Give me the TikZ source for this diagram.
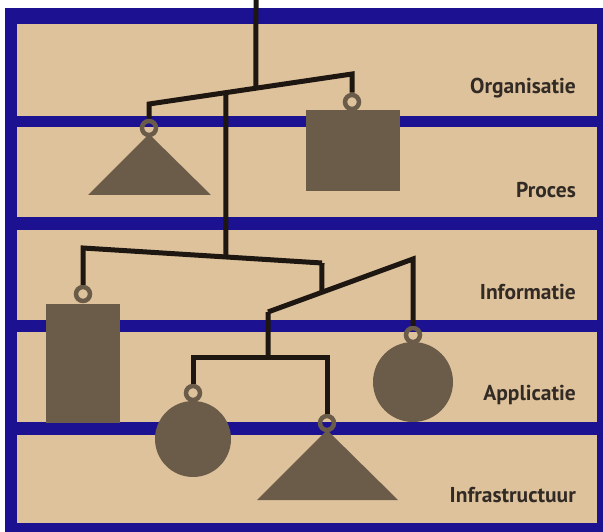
\documentclass[tikz,border=0pt]{standalone}
\usepackage{fontspec}
\setmainfont{PT Sans}
\usetikzlibrary{calc}
\definecolor{bluec}{RGB}{28,18,145}
\definecolor{tanc}{RGB}{222,194,156}
\definecolor{shapec}{RGB}{107,92,73}
\definecolor{beamc}{RGB}{30,22,16}
\definecolor{textc}{RGB}{50,42,36}
\begin{document}
\begin{tikzpicture}[x=1pt,y=-1pt,
  panel/.style={fill=tanc},
  wire/.style={draw=beamc, line width=5pt, line join=miter, line cap=butt},
  ring/.style={circle, draw=shapec, line width=4.5pt, minimum size=14pt, inner sep=0pt},
  weight/.style={fill=shapec},
  lbl/.style={anchor=base east, text=textc, font=\bfseries\fontsize{21.5}{21.5}\selectfont, inner sep=0pt}]
\useasboundingbox (0,0) rectangle (603,532);
\fill[white] (0,0) rectangle (603,532);
\fill[bluec] (5,8) rectangle (603,532);
\fill[panel] (17,24) rectangle (597,116);
\fill[panel] (17,127) rectangle (597,217);
\fill[panel] (17,230) rectangle (597,320);
\fill[panel] (17,332) rectangle (597,422);
\fill[panel] (17,435) rectangle (597,523);

% beam end points
\coordinate (top) at (256,0);
\coordinate (b1l) at (149,104);
\coordinate (b1r) at (352,74);
\coordinate (b2l) at (83,248);
\coordinate (b2r) at (322,263);
\coordinate (b3l) at (268,312);
\coordinate (b3r) at (413,259);
\coordinate (b4l) at (193,357);
\coordinate (b4r) at (327,357);
\coordinate (j1) at ($(b1l)!0.527!(b1r)$);
\coordinate (j2) at ($(b1l)!0.379!(b1r)$);
\coordinate (j3) at ($(b2l)!0.598!(b2r)$);
\coordinate (j4) at ($(b3l)!0.372!(b3r)$);
\coordinate (j5) at ($(b4l)!0.56!(b4r)$);

% weights
\fill[weight] (149,134) -- (211,195) -- (88,195) -- cycle;
\fill[weight] (306,110) rectangle (400,191);
\fill[weight] (46,304) rectangle (120,423);
\fill[weight] (413,382) circle[radius=40pt];
\fill[weight] (193,439) circle[radius=38pt];
\fill[weight] (327,430) -- (398,500) -- (257,500) -- cycle;

% rings
\node[ring] (r1) at (149,128) {};
\node[ring] (r2) at (352,102) {};
\node[ring] (r3) at (83,294) {};
\node[ring] (r4) at (413,335) {};
\node[ring] (r5) at (193,393) {};
\node[ring] (r6) at (327,423) {};

% wires
\draw[wire] (top) -- (j1);
\draw[wire] (j2) -- (j3);
\draw[wire] (b2r) -- (j4);
\draw[wire] (b3l) -- (j5);
\draw[wire] (r1.north) -- (b1l) -- (b1r) -- (r2.north);
\draw[wire] (r3.north) -- (b2l) -- (b2r);
\draw[wire] (b3l) -- (b3r) -- (r4.north);
\draw[wire] (r5.north) -- (b4l) -- (b4r) -- (r6.north);

% labels
\node[lbl] (l1) at (576,94) {Organisatie};
\node[lbl] (l2) at (576,197) {Proces};
\node[lbl] (l3) at (576,299) {Informatie};
\node[lbl] (l4) at (576,400) {Applicatie};
\node[lbl] (l5) at (576,502) {Infrastructuur};
\end{tikzpicture}
\end{document}
